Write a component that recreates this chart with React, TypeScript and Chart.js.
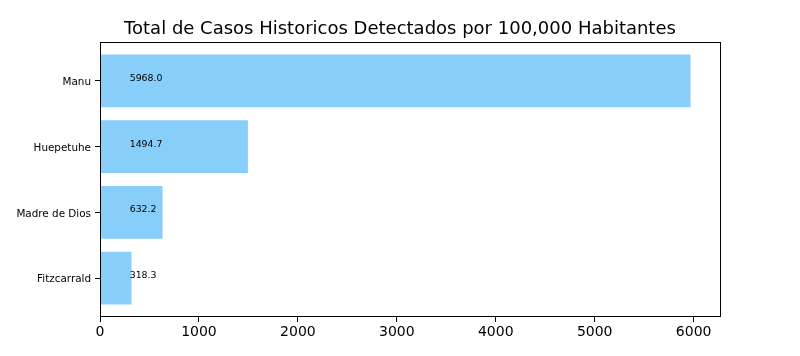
import React, { useEffect, useRef } from "react";
import { Chart, registerables } from "chart.js";

Chart.register(...registerables);

const categories = ["Fitzcarrald", "Madre de Dios", "Huepetuhe", "Manu"];
const values = [318.3, 632.2, 1494.7, 5968.0];
const xTicks = [0, 1000, 2000, 3000, 4000, 5000, 6000];
const labelX = 300;
const titleText = "Total de Casos Historicos Detectados por 100,000 Habitantes";

const FONT = "'DejaVu Sans', sans-serif";

export default function App() {
  const ref = useRef<HTMLCanvasElement | null>(null);

  useEffect(() => {
    if (!ref.current) return;
    const framePlugin = {
      id: "frameAndLabels",
      afterDatasetsDraw(chart: any) {
        const { ctx, chartArea, scales } = chart;
        ctx.save();
        ctx.strokeStyle = "#000";
        ctx.lineWidth = 1;
        ctx.strokeRect(
          Math.round(chartArea.left) + 0.5,
          Math.round(chartArea.top) + 0.5,
          Math.round(chartArea.right - chartArea.left),
          Math.round(chartArea.bottom - chartArea.top) - 1
        );
        ctx.fillStyle = "#000";
        ctx.font = `9.4px ${FONT}`;
        ctx.textAlign = "left";
        ctx.textBaseline = "alphabetic";
        values.forEach((v, i) => {
          ctx.fillText(v.toFixed(1), scales.x.getPixelForValue(labelX), scales.y.getPixelForValue(i));
        });
        ctx.font = `18px ${FONT}`;
        ctx.textAlign = "center";
        ctx.textBaseline = "alphabetic";
        ctx.fillText(titleText, chart.width / 2, chartArea.top - 8);
        ctx.restore();
      },
    };

    const chart = new Chart(ref.current, {
      type: "bar",
      data: {
        datasets: [
          {
            data: values.map((v, i) => ({ x: v, y: i })),
            backgroundColor: "#87CEFA",
            borderWidth: 0,
            barPercentage: 0.8,
            categoryPercentage: 1.0,
          },
        ],
      },
      options: {
        indexAxis: "y",
        animation: false,
        responsive: true,
        maintainAspectRatio: false,
        layout: { padding: { left: 0, right: 80, top: 42, bottom: 0 } },
        plugins: { legend: { display: false }, tooltip: { enabled: false }, title: { display: false } },
        scales: {
          x: {
            type: "linear",
            min: 0,
            max: 5968 * 1.05,
            afterBuildTicks: (s: any) => {
              s.ticks = xTicks.map((v) => ({ value: v }));
            },
            afterFit: (s: any) => {
              s.height = 39;
            },
            ticks: {
              color: "#000",
              font: { family: FONT, size: 14 },
              padding: 2,
              maxRotation: 0,
              autoSkip: false,
              callback: (v: any) => String(v),
            },
            grid: { drawOnChartArea: false, drawTicks: true, tickLength: 5, tickColor: "#000", color: "#000" },
            border: { display: false },
          },
          y: {
            type: "linear",
            min: -0.59,
            max: 3.59,
            offset: false,
            afterBuildTicks: (s: any) => {
              s.ticks = categories.map((_, i) => ({ value: i }));
            },
            afterFit: (s: any) => {
              s.width = 100;
            },
            ticks: {
              color: "#000",
              font: { family: FONT, size: 10.4 },
              padding: 4,
              labelOffset: 1.5,
              autoSkip: false,
              callback: (v: any) => categories[v as number] ?? "",
            },
            grid: {
              offset: false,
              drawOnChartArea: false,
              drawTicks: true,
              tickLength: 5,
              tickColor: "#000",
              color: "#000",
            },
            border: { display: false },
          },
        },
      },
      plugins: [framePlugin],
    } as any);
    return () => chart.destroy();
  }, []);

  return (
    <div style={{ position: "fixed", left: 0, top: 0, width: 800, height: 356, background: "#fff" }}>
      <canvas ref={ref} />
    </div>
  );
}
